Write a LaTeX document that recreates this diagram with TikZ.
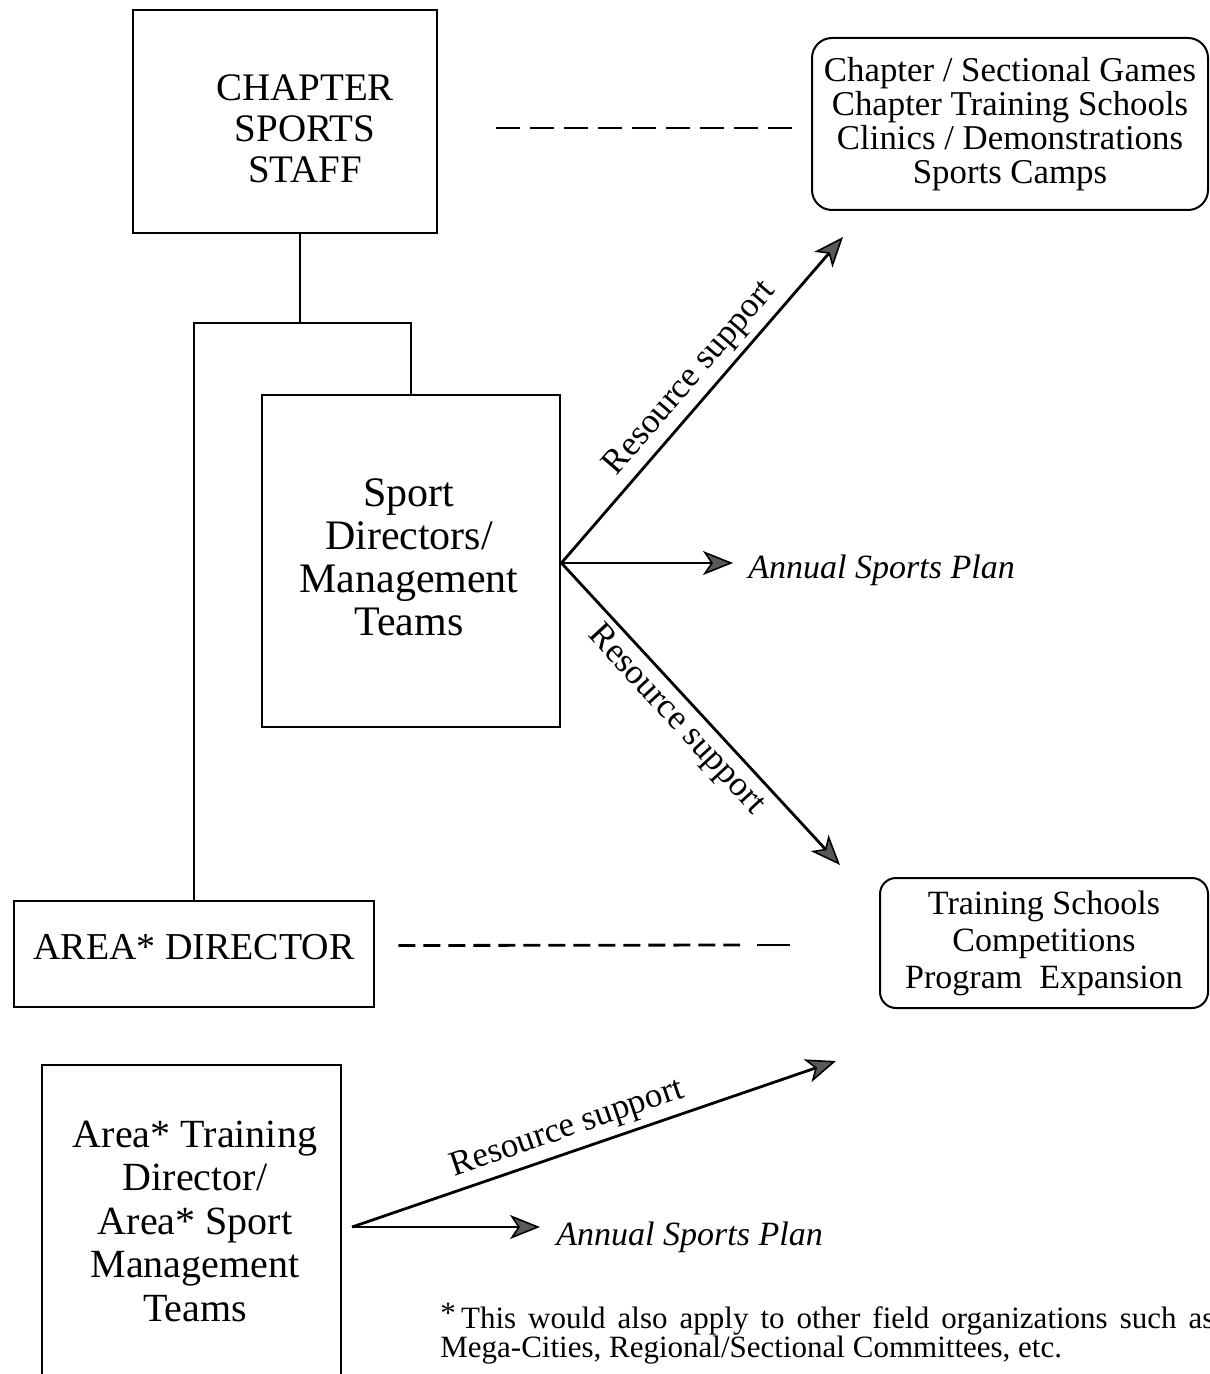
\documentclass[tikz,border=0pt]{standalone}
\usepackage{fontspec}
\setmainfont{Liberation Serif}
\usetikzlibrary{arrows.meta}

\begin{document}
\begin{tikzpicture}[x=0.5pt,y=-0.5pt,
  frame/.style={draw, line width=1.4pt, inner sep=0pt},
  rbox/.style={draw, line width=1pt, rounded corners=10pt, align=center, inner sep=0pt},
  boxtext/.style={align=center, inner sep=0pt},
  link/.style={line width=1.4pt},
  dashline/.style={line width=1.4pt, dash pattern=on 12pt off 5pt},
  dashshort/.style={line width=1.4pt, dash pattern=on 8.5pt off 4pt},
  arr/.style={line width=1.4pt, -{Stealth[length=15pt,width=12pt,inset=4pt,fill=black!65,line width=0.8pt]}},
  rlabel/.style={font=\fontsize{17.5}{20}\selectfont, inner sep=3pt},
  plan/.style={font=\fontsize{17}{20}\selectfont\itshape, anchor=west, inner sep=0pt}]

\path[use as bounding box] (0,0) rectangle (1209,1374);
\clip (0,0) rectangle (1209,1374);

% boxes
\node[frame, minimum width=152pt, minimum height=111.5pt] (chapter) at (285,121.5) {};
\node[boxtext, font=\fontsize{19.5}{20.5}\selectfont] (chaptertxt) at (305,129) {CHAPTER\\SPORTS\\STAFF};

\node[frame, minimum width=149pt, minimum height=166pt] (sport) at (411,561) {};
\node[boxtext, font=\fontsize{21}{21.5}\selectfont] (sporttxt) at (409,557) {Sport\\Directors/\\Management\\Teams};

\node[frame, minimum width=180pt, minimum height=53pt] (areadir) at (194,954) {};
\node[boxtext, font=\fontsize{19}{21}\selectfont] (areadirtxt) at (194,947) {AREA* DIRECTOR};

\node[frame, minimum width=149.5pt, minimum height=170pt] (areatrain) at (191.5,1235) {};
\node[boxtext, font=\fontsize{20}{21.75}\selectfont] (areatraintxt) at (195,1221) {Area* Training\\Director/\\Area* Sport\\Management\\Teams};

\node[rbox, minimum width=198pt, minimum height=86pt, font=\fontsize{17.4}{17}\selectfont] (games) at (1010,124)
  {Chapter / Sectional Games\\Chapter Training Schools\\Clinics / Demonstrations\\Sports Camps};

\node[rbox, rounded corners=8pt, minimum width=164pt, minimum height=65pt, font=\fontsize{17}{18.5}\selectfont] (schools) at (1044,943)
  {Training Schools\\Competitions\\Program\ \ Expansion};

% organisation lines
\coordinate (bus) at (300,323);
\draw[link] ([xshift=7.5pt]chapter.south) -- (bus);
\draw[link] (areadir.north) |- (bus) -| (sport.north);

% dashed links
\draw[dashline, shorten <=29pt, shorten >=6pt] ([yshift=-3.25pt]chapter.east) -- ([yshift=-2pt]games.west);
\coordinate (dashstop) at (740,945);
\coordinate (lastdasha) at (757,945);
\coordinate (lastdashb) at (790,945);
\draw[dashshort] ([yshift=4.25pt,xshift=11.5pt]areadir.east) -- (dashstop);
\draw[link] (lastdasha) -- (lastdashb);

% support arrows from the sport directors
\coordinate (upA) at (843,237);
\coordinate (downA) at (840,865);
\coordinate (planA) at (733,563);
\node[plan] (plan1) at (748,570) {Annual Sports Plan};
\draw[arr] ([yshift=-1pt]sport.east) -- (upA) node[rlabel, pos=0.52, sloped, above] {Resource support};
\draw[arr] ([yshift=-1pt]sport.east) -- (planA);
\draw[arr] ([yshift=-1pt]sport.east) -- (downA) node[rlabel, pos=0.47, sloped, below] {Resource support};

% support arrows from the area training directors
\coordinate (src) at (352,1227);
\coordinate (upB) at (836,1061);
\coordinate (planB) at (540,1227);
\node[plan] (plan2) at (556,1237) {Annual Sports Plan};
\draw[arr] (src) -- (upB) node[rlabel, pos=0.46, sloped, above] {Resource support};
\draw[arr] (src) -- (planB);

% footnote
\node[anchor=north west, align=left, inner sep=0pt, font=\fontsize{15.5}{14.5}\selectfont] (note) at (440,1303)
  {\makebox[387pt][s]{\raisebox{0.15em}{*}\,This would also apply to other field organizations such as}\\Mega-Cities, Regional/Sectional Committees, etc.};
\end{tikzpicture}
\end{document}
